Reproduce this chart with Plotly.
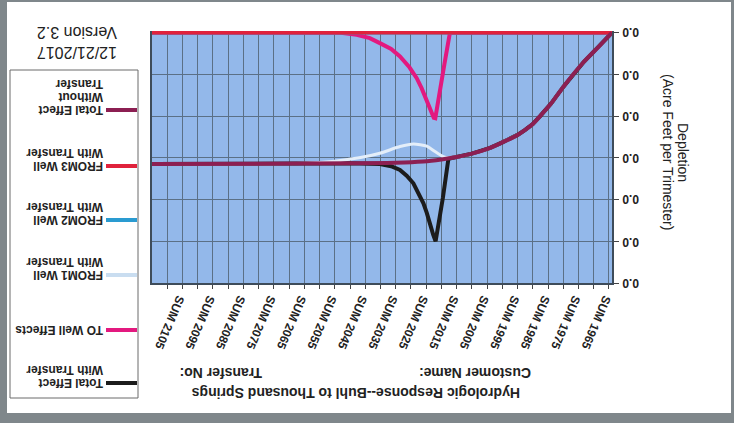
import plotly.graph_objects as go

# ---------------- data (x = year, y = acre-feet) ----------------
tick_years = [1965, 1975, 1985, 1995, 2005, 2015, 2025, 2035, 2045, 2055, 2065, 2075, 2085, 2095, 2105]
tick_labels = ["SUM 1965", "SUM 1975", "SUM 1985", "SUM 1995", "SUM 2005", "SUM 2015", "SUM 2025",
               "SUM 2035", "SUM 2045", "SUM 2055", "SUM 2065", "SUM 2075", "SUM 2085", "SUM 2095", "SUM 2105"]
grid_years = [1965, 1970, 1975, 1980, 1985, 1990, 1995, 2000, 2005, 2010, 2015, 2020, 2025, 2030, 2035,
              2040, 2045, 2050, 2055, 2060, 2065, 2070, 2075, 2080, 2085, 2090, 2095, 2100, 2105, 2110]
y_tick_vals = [0.0, 0.01, 0.02, 0.03, 0.04, 0.05, 0.06]
y_tick_text = ["0.0", "0.0", "0.0", "0.0", "0.0", "0.0", "0.0"]

without_years = [1964, 1968, 1973.5, 1980, 1984, 1987.6, 1990, 1992.5, 1995, 2000, 2004, 2010, 2015,
                 2020, 2026, 2035, 2050, 2080, 2115]
without_vals = [0.0, 0.0031, 0.0072, 0.0130, 0.0170, 0.0200, 0.0219, 0.0233, 0.0245, 0.0263, 0.0276,
                0.0290, 0.0298, 0.0304, 0.0309, 0.0312, 0.0313, 0.0314, 0.0315]

with_years = [1964, 1968, 1973.5, 1980, 1984, 1987.6, 1990, 1992.5, 1995, 2000, 2004, 2010, 2015,
              2017.7, 2019.5, 2021.5, 2021.9, 2022.7, 2023.7, 2024.8, 2025.9, 2027.5, 2029.2, 2031.4,
              2033.6, 2036.5, 2040.2, 2050, 2080, 2115]
with_vals = [0.0, 0.0031, 0.0072, 0.0130, 0.0170, 0.0200, 0.0219, 0.0233, 0.0245, 0.0263, 0.0276,
             0.0290, 0.0298, 0.0302, 0.0395, 0.0496, 0.0500, 0.0484, 0.0457, 0.0432, 0.0409, 0.0383,
             0.0361, 0.0343, 0.0329, 0.0320, 0.0315, 0.0313, 0.0314, 0.0315]

to_well_years = [1964, 2017.2, 2019, 2021, 2022.0, 2022.5, 2023.5, 2024.8, 2026.5, 2028.1, 2030.5,
                 2033.6, 2036.5, 2040.2, 2043.5, 2047.8, 2053, 2115]
to_well_vals = [0.0, 0.0, 0.0075, 0.0160, 0.0205, 0.0204, 0.0185, 0.0161, 0.0133, 0.0109, 0.0083,
                0.0057, 0.0039, 0.0025, 0.0013, 0.0005, 0.0, 0.0]

from1_years = [1964, 1968, 1973.5, 1980, 1984, 1987.6, 1990, 1992.5, 1995, 2000, 2004, 2010, 2015,
               2017.7, 2019.4, 2022.1, 2024.8, 2029.2, 2033.6, 2040.2, 2047, 2055, 2065, 2080, 2115]
from1_vals = [0.0, 0.0031, 0.0072, 0.0130, 0.0170, 0.0200, 0.0219, 0.0233, 0.0245, 0.0263, 0.0276,
              0.0290, 0.0298, 0.0300, 0.0297, 0.0285, 0.0272, 0.0267, 0.0273, 0.0289, 0.0300, 0.0308,
              0.0313, 0.0314, 0.0315]

from2_years = [1964, 2115]
from2_vals = [0.0, 0.0]
from3_years = [1964, 2115]
from3_vals = [0.0, 0.0]

# ---------------- styling ----------------
C_BLACK = "#1c1c1c"
C_MAGENTA = "#e3197f"
C_LIGHT = "#e4eef9"
C_BLUE = "#2a9bd1"
C_RED = "#e0223c"
C_MAROON = "#8c1f52"
GRID = "#5b7086"
FONT = "Liberation Sans, Arial, sans-serif"

W, H = 734, 423
PL, PR, PT, PB = 152, 612, 31, 283


def px(x):
    return (x - PL) / (PR - PL)


def py(y):
    return (PB - y) / (PB - PT)


fig = go.Figure()
series = [
    ("Total Effect With Transfer", with_years, with_vals, C_BLACK, 4, "linear"),
    ("TO Well Effects", to_well_years, to_well_vals, C_MAGENTA, 4, "linear"),
    ("FROM1 Well With Transfer", from1_years, from1_vals, C_LIGHT, 3, "spline"),
    ("FROM2 Well With Transfer", from2_years, from2_vals, C_BLUE, 3.5, "linear"),
    ("FROM3 Well With Transfer", from3_years, from3_vals, C_RED, 3.5, "linear"),
    ("Total Effect Without Transfer", without_years, without_vals, C_MAROON, 4, "spline"),
]
for name, xs, ys, col, w, shape in series:
    fig.add_trace(go.Scatter(x=xs, y=ys, mode="lines", name=name, showlegend=False,
                             line=dict(color=col, width=w, shape=shape,
                                       smoothing=0.6 if shape == "spline" else None)))

shapes = []
annotations = []


def note(text, x, y, size, angle, xanchor="center", bold=False, yref="paper", yval=None):
    annotations.append(dict(text=("<b>" + text + "</b>") if bold else text, xref="paper", yref=yref,
                            x=px(x), y=py(y) if yval is None else yval,
                            xanchor=xanchor, yanchor="middle", showarrow=False, textangle=angle,
                            font=dict(family=FONT, size=size, color="#222")))


# scanner border
for (x0, y0, x1, y1) in [(0, 0, 7, 423), (0, 413, 734, 423), (0, 0, 734, 2), (731, 0, 734, 423)]:
    shapes.append(dict(type="rect", xref="paper", yref="paper", x0=px(x0), x1=px(x1),
                       y0=py(y1), y1=py(y0), fillcolor="#7f878b", line=dict(width=0), layer="above"))

# y tick labels (upside down)
for v, t in zip(y_tick_vals, y_tick_text):
    note(t, 631, 0, 12, 180, bold=True, yref="y", yval=v)

# axis title
note("Depletion", 683, 152, 14, 90)
note("(Acre Feet per Trimester)", 668, 152, 14, 90)

# titles
note("Hydrologic Response--Buhl to Thousand Springs", 356, 393, 14, 180, bold=True)
note("Customer Name:", 475, 373, 14, 180, bold=True)
note("Transfer No:", 221, 373, 14, 180, bold=True)
note("12/21/2017", 77, 53, 16, 180)
note("Version 3.2", 77, 32, 16, 180)

# legend (drawn upside down)
shapes.append(dict(type="rect", xref="paper", yref="paper", x0=px(10), x1=px(138), y0=py(398),
                   y1=py(70), line=dict(color="#6a6a6a", width=1), fillcolor="rgba(0,0,0,0)"))
legend_items = [
    (110, C_MAROON, ["Total Effect", "Without", "Transfer"]),
    (166, C_RED, ["FROM3 Well", "With Transfer"]),
    (220, C_BLUE, ["FROM2 Well", "With Transfer"]),
    (275, "#c9ddf0", ["FROM1 Well", "With Transfer"]),
    (330, C_MAGENTA, ["TO Well Effects"]),
    (383, C_BLACK, ["Total Effect", "With Transfer"]),
]
for ly, col, lines in legend_items:
    shapes.append(dict(type="line", xref="paper", yref="paper", x0=px(106), x1=px(137),
                       y0=py(ly), y1=py(ly), line=dict(color=col, width=4)))
    for i, t in enumerate(lines):
        note(t, 105, ly - 13 * i, 12, 180, xanchor="right", bold=True)

fig.update_layout(
    width=W, height=H,
    margin=dict(l=PL, r=W - PR, t=PT, b=H - PB, pad=0, autoexpand=False),
    paper_bgcolor="white",
    plot_bgcolor="#93b8ea",
    shapes=shapes,
    annotations=annotations,
    showlegend=False,
    font=dict(family=FONT),
)
fig.update_xaxes(
    automargin=False,
    range=[2115, 1964], tickmode="array", tickvals=tick_years, ticktext=tick_labels,
    tickangle=113, tickfont=dict(family=FONT, size=12, color="#222", weight="bold"),
    ticks="outside", ticklen=4, tickcolor="#444",
    showgrid=True, gridcolor=GRID, gridwidth=1,
    minor=dict(tickmode="array", tickvals=grid_years, ticks="outside", ticklen=4, tickcolor="#444",
               showgrid=True, gridcolor=GRID, gridwidth=1),
    showline=True, linecolor="#3e4c5a", linewidth=1.5, zeroline=False,
)
fig.update_yaxes(
    automargin=False,
    range=[0.06, -0.0004], side="right", tickmode="array", tickvals=y_tick_vals,
    showticklabels=False, ticks="outside", ticklen=5, tickcolor="#444",
    showgrid=True, gridcolor=GRID, gridwidth=1,
    showline=True, linecolor="#3e4c5a", linewidth=1.5, mirror=True, zeroline=False,
)

fig.write_html("out.html", config={"displayModeBar": False},
               post_script="document.body.style.margin='0';")
